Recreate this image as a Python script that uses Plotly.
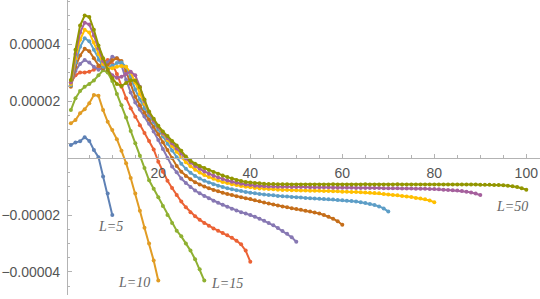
import plotly.graph_objects as go

SCALE = 1e-6  # values below are in units of 1e-6

L_values = [5, 10, 15, 20, 25, 30, 35, 40, 45, 50]
colors = ["#5E81B5", "#E19C24", "#8FB032", "#EB6235", "#8778B3",
          "#C56E1A", "#5D9EC7", "#FFBF00", "#A5609D", "#929600"]

y_L5 = [4.6, 5.4, 5.9, 7.3, 6.0, 2.8, 0.3, -6.5, -12.5, -20.0]

y_L10 = [12.2, 13.3, 15.7, 17.1, 19.2, 22.1, 21.8, 16.8, 12.7, 9.8,
         6.6, 2.5, -1.8, -7.0, -12.5, -18.5, -24.5, -30.0, -36.0, -43.0]

y_L15 = [16.8, 21.0, 23.5, 25.0, 26.0, 27.2, 29.0, 30.8, 30.0, 27.0,
         22.5, 18.5, 14.2, 9.5, 5.2, 0.8, -3.5, -7.8, -10.8, -13.8,
         -16.8, -20.0, -22.8, -25.5, -27.5, -30.0, -32.5, -35.5, -39.0, -43.0]

y_L20 = [26.5, 29.0, 30.0, 30.0, 30.3, 31.0, 32.0, 33.8, 34.4, 33.0,
         29.5, 25.0, 21.0, 17.5, 14.5, 11.5, 8.8, 6.0, 3.0, -1.3,
         -4.8, -8.0, -10.5, -13.0, -15.3, -17.3, -19.0, -20.4, -21.7, -22.8,
         -23.8, -24.7, -25.5, -26.3, -27.1, -28.0, -29.0, -30.3, -32.5, -36.4]

y_L25 = [25.5, 30.5, 33.0, 34.4, 33.5, 32.0, 31.0, 31.5, 33.5, 35.5,
         35.0, 32.5, 27.5, 23.0, 19.5, 17.0, 14.6, 12.0, 9.3, 6.3,
         3.2, 0.0, -3.0, -5.0, -7.2, -8.8, -10.2, -11.4, -12.4, -13.3,
         -14.1, -15.0, -15.7, -16.4, -17.1, -17.8, -18.4, -19.0, -19.5, -20.0,
         -20.6, -21.3, -22.0, -22.8, -23.6, -24.6, -25.6, -26.6, -27.8, -29.4]

y_L30 = [25.0, 32.0, 36.0, 38.3, 37.5, 35.0, 32.5, 31.5, 32.5, 34.3,
         35.0, 34.0, 30.5, 26.0, 21.5, 18.5, 16.0, 13.5, 11.0, 8.3,
         5.5, 2.8, 0.0, -2.8, -4.8, -6.3, -7.5, -8.5, -9.3, -10.0,
         -10.6, -11.2, -11.7, -12.2, -12.6, -13.0, -13.4, -13.8, -14.1, -14.4,
         -14.8, -15.2, -15.6, -16.0, -16.3, -16.7, -17.0, -17.3, -17.6, -17.9,
         -18.2, -18.5, -18.8, -19.1, -19.5, -20.0, -20.6, -21.3, -22.2, -23.4]

y_L35 = [25.5, 33.5, 39.0, 42.0, 41.0, 38.0, 34.5, 32.0, 31.5, 32.5,
         33.3, 33.5, 32.0, 28.5, 24.0, 20.5, 17.5, 15.0, 12.5, 10.0,
         7.5, 5.0, 2.6, 0.3, -2.0, -3.8, -5.2, -6.3, -7.2, -8.0,
         -8.6, -9.2, -9.7, -10.2, -10.6, -11.0, -11.3, -11.6, -11.9, -12.2,
         -12.4, -12.6, -12.8, -13.0, -13.1, -13.3, -13.4, -13.5, -13.7, -13.8,
         -13.9, -14.0, -14.1, -14.2, -14.3, -14.4, -14.5, -14.6, -14.7, -14.8,
         -15.0, -15.1, -15.3, -15.5, -15.8, -16.1, -16.5, -17.0, -17.7, -18.8]

y_L40 = [26.0, 35.0, 41.5, 45.0, 44.0, 40.5, 36.5, 33.0, 31.5, 31.5,
         32.0, 32.3, 32.0, 30.0, 26.5, 22.5, 19.0, 16.0, 13.3, 10.8,
         8.5, 6.3, 4.2, 2.2, 0.3, -1.5, -2.9, -4.1, -5.1, -6.0,
         -6.7, -7.3, -7.9, -8.4, -8.8, -9.2, -9.5, -9.8, -10.1, -10.3,
         -10.5, -10.7, -10.8, -10.9, -11.0, -11.1, -11.2, -11.2, -11.3, -11.3,
         -11.4, -11.4, -11.5, -11.5, -11.5, -11.6, -11.6, -11.7, -11.7, -11.8,
         -11.8, -11.9, -11.9, -12.0, -12.1, -12.2, -12.3, -12.4, -12.6, -12.8,
         -13.0, -13.1, -13.3, -13.5, -13.7, -14.0, -14.2, -14.5, -14.9, -15.5]

y_L45 = [26.5, 36.5, 44.0, 47.5, 46.8, 43.0, 38.5, 34.0, 31.0, 29.0,
         28.2, 28.5, 29.5, 30.3, 29.0, 25.0, 20.0, 16.0, 13.2, 10.8,
         8.8, 7.0, 5.2, 3.3, 1.5, -0.2, -1.6, -2.8, -3.8, -4.7,
         -5.5, -6.2, -6.8, -7.4, -7.9, -8.3, -8.7, -9.0, -9.3, -9.5,
         -9.7, -9.8, -9.9, -10.0, -10.0, -10.1, -10.1, -10.1, -10.2, -10.2,
         -10.2, -10.2, -10.3, -10.3, -10.3, -10.3, -10.3, -10.4, -10.4, -10.4,
         -10.4, -10.4, -10.5, -10.5, -10.5, -10.5, -10.5, -10.5, -10.6, -10.6,
         -10.6, -10.6, -10.7, -10.7, -10.7, -10.8, -10.8, -10.8, -10.9, -10.9,
         -11.0, -11.1, -11.2, -11.3, -11.4, -11.6, -11.8, -12.1, -12.5, -13.0]

y_L50 = [27.4, 38.0, 46.5, 50.0, 49.5, 45.0, 39.5, 35.0, 31.0, 28.0,
         26.0, 25.3, 26.3, 27.3, 27.2, 24.8, 20.5, 16.3, 13.8, 11.3,
         9.3, 7.7, 6.0, 4.4, 2.5, 0.5, -1.0, -2.0, -2.8, -3.5,
         -4.2, -4.9, -5.5, -6.1, -6.7, -7.2, -7.7, -8.1, -8.4, -8.6,
         -8.8, -8.9, -9.0, -9.1, -9.1, -9.2, -9.2, -9.2, -9.3, -9.3,
         -9.3, -9.3, -9.3, -9.3, -9.3, -9.3, -9.3, -9.2, -9.3, -9.3,
         -9.3, -9.3, -9.3, -9.3, -9.2, -9.3, -9.3, -9.3, -9.3, -9.3,
         -9.3, -9.2, -9.3, -9.3, -9.3, -9.3, -9.3, -9.3, -9.3, -9.3,
         -9.3, -9.3, -9.3, -9.3, -9.3, -9.3, -9.3, -9.3, -9.3, -9.4,
         -9.4, -9.4, -9.5, -9.5, -9.6, -9.7, -9.9, -10.2, -10.6, -11.1]

series = [y_L5, y_L10, y_L15, y_L20, y_L25, y_L30, y_L35, y_L40, y_L45, y_L50]

label_texts = ["L=5", "L=10", "L=15", "L=50"]
label_x = [9.7, 14.8, 35.0, 97.0]
label_y = [-23.9, -43.7, -44.2, -17.1]

y_tickvals = [-40, -20, 20, 40]
y_ticktext = ["\u22120.00004", "\u22120.00002", "0.00002", "0.00004"]
x_tickvals = [20, 40, 60, 80, 100]

fig = go.Figure()
for L, col, vals in zip(L_values, colors, series):
    xs = list(range(1, len(vals) + 1))
    fig.add_trace(go.Scatter(
        x=xs, y=[v * SCALE for v in vals], mode="lines+markers",
        line=dict(color=col, width=2),
        marker=dict(color=col, size=4),
        name=f"L={L}", showlegend=False, hoverinfo="skip"))

for t, lx, ly in zip(label_texts, label_x, label_y):
    fig.add_annotation(x=lx, y=ly * SCALE, text=t, showarrow=False,
                       font=dict(family="Liberation Serif", size=14, color="#666666",
                                 style="italic"),
                       xanchor="center", yanchor="middle")

axis_col = "#b3b3b3"
fig.update_layout(
    width=540, height=299,
    margin=dict(l=0, r=0, t=0, b=0),
    paper_bgcolor="white", plot_bgcolor="white",
    xaxis=dict(
        domain=[0.1259, 1.0], range=[0.37, 102.98],
        anchor="free", position=0.4716,
        showgrid=False, zeroline=False, showline=True,
        linecolor=axis_col, linewidth=1,
        ticks="inside", ticklen=4, tickwidth=1, tickcolor=axis_col,
        tickvals=x_tickvals, ticktext=[str(v) for v in x_tickvals],
        ticklabelstandoff=2,
        tickfont=dict(family="Liberation Sans", size=14, color="#555555"),
        minor=dict(ticks="inside", ticklen=2.5, tickcolor=axis_col, dtick=5, tick0=0),
    ),
    yaxis=dict(
        domain=[0.0134, 1.0], range=[-48.07 * SCALE, 55.44 * SCALE],
        anchor="x",
        showgrid=False, zeroline=False, showline=True,
        linecolor=axis_col, linewidth=1,
        ticks="inside", ticklen=4, tickwidth=1, tickcolor=axis_col,
        tickvals=[v * SCALE for v in y_tickvals], ticktext=y_ticktext,
        ticklabelstandoff=4,
        tickfont=dict(family="Liberation Sans", size=14, color="#555555"),
        minor=dict(ticks="inside", ticklen=2.5, tickcolor=axis_col,
                   dtick=5 * SCALE, tick0=0),
    ),
)

fig.write_html("out.html", config={"displayModeBar": False},
               post_script="document.body.style.margin='0';")
